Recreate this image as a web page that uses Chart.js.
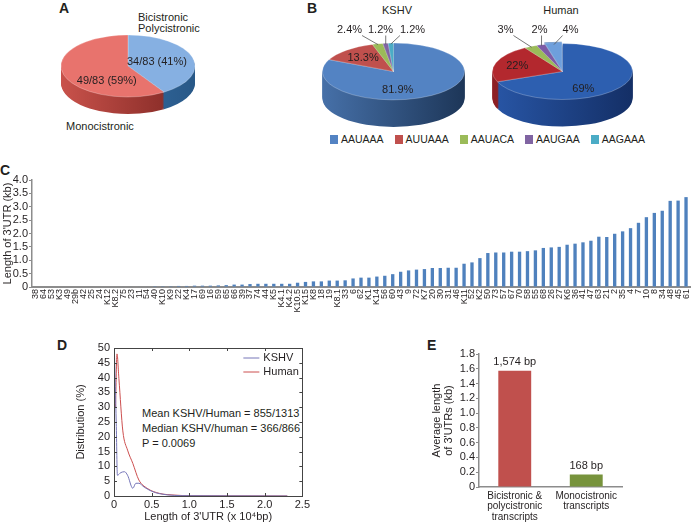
<!DOCTYPE html>
<html>
<head>
<meta charset="utf-8">
<script src="https://cdn.jsdelivr.net/npm/chart.js@4.4.0/dist/chart.umd.min.js"></script>
<style>
  html, body { margin: 0; padding: 0; background: #fff; }
  body { width: 700px; height: 524px; position: relative; overflow: hidden;
         font-family: "Liberation Sans", Arial, Helvetica, sans-serif; color: #231f20; }
  canvas, .t { position: absolute; }
  .t { font-size: 11px; line-height: 12px; white-space: nowrap; }
  .panel { font-size: 14px; font-weight: bold; line-height: 16px; }
  #legendB { position: absolute; left: 330px; top: 133px; display: flex; gap: 11px; font-size: 10.5px; line-height: 12px; }
  #legendB span.sw { display: inline-block; width: 8px; height: 9px; margin-right: 3px; vertical-align: -1px; }
</style>
</head>
<body>

<!-- panel letters and free text -->
<div class="t panel" style="left:59px; top:0px;">A</div>
<div class="t panel" style="left:307px; top:0px;">B</div>
<div class="t panel" style="left:0px; top:162px;">C</div>
<div class="t panel" style="left:57px; top:337px;">D</div>
<div class="t panel" style="left:427px; top:337px;">E</div>

<div class="t" id="labA0" style="left:138px; top:12px; line-height:10.5px;"></div>
<div class="t" id="labA1" style="left:66px; top:120px;"></div>

<div class="t" style="left:372px; top:4px; width:50px; text-align:center;">KSHV</div>
<div class="t" style="left:531px; top:4px; width:60px; text-align:center;">Human</div>
<div id="legendB"></div>

<div class="t" id="statsD" style="left:142px; top:406px; line-height:15px;"></div>

<canvas id="pieA" width="134" height="134" style="left:61px; top:-1px;"></canvas>
<canvas id="pieKshv" width="143" height="143" style="left:322px; top:0px;"></canvas>
<canvas id="pieHuman" width="141" height="143" style="left:492px; top:0px;"></canvas>
<canvas id="barC" width="700" height="150" style="left:0px; top:170px;"></canvas>
<canvas id="lineD" width="252" height="189" style="left:60px; top:335px;"></canvas>
<canvas id="barE" width="270" height="184" style="left:430px; top:340px;"></canvas>

<script>
// ---------- data ----------

// A: KSHV transcripts by cistronic type
const cistronicLabels = [["Bicistronic", "Polycistronic"], ["Monocistronic"]];
const cistronicCounts = [34, 49];
const cistronicTotal = 83;

// B: poly(A) signal usage, percent
const pasLabels = ["AAUAAA", "AUUAAA", "AAUACA", "AAUGAA", "AAGAAA"];
const pasKshv = [81.9, 13.3, 2.4, 1.2, 1.2];
const pasHuman = [69, 22, 3, 2, 4];

// C: 3'UTR length per transcript (kb)
const utrGenes = ["38","64","53","K3","49","29b","42","25","24","K12","K8.2","75","23","11","54","40",
  "K10","K9","22","K4","17","69","16","59","65","66","39","37","74","44","K5","K4.1","K4.2","K10.5",
  "K15","K8","18","19","K8.1","33","6","62","K1","K14","56","60","43","9","72","K7","20","30","31",
  "46","K11","52","K2","50","73","57","67","70","58","55","68","26","27","K6","36","41","47","63",
  "21","2","35","4","7","10","8","34","48","45","61"];
const utrLengths = [0,0,0,0,0,0,0,0,0,0,0,
  0.02,0.02,0.02,0.02,0.03,0.03,0.03,0.04,0.04,0.05,0.05,0.05,0.06,0.07,
  0.09,0.09,0.11,0.12,0.12,0.12,0.12,0.12,0.16,0.19,0.21,0.21,0.24,0.24,0.25,0.32,0.35,0.35,0.39,
  0.42,0.48,0.57,0.62,0.65,0.67,0.71,0.71,0.72,0.72,
  0.87,0.92,1.08,1.27,1.29,1.29,1.32,1.32,1.34,1.37,1.46,1.48,1.50,1.58,1.62,1.67,1.73,1.88,1.87,
  1.99,2.08,2.20,2.40,2.61,2.77,2.85,3.22,3.23,3.36];

// D: distribution of 3'UTR length (x 10^4 bp, %)
const kshvX = [0.005, 0.03, 0.045, 0.09, 0.14, 0.18, 0.25, 0.29, 0.33, 0.4, 0.5, 0.6, 0.8, 1.0, 1.5, 2.0, 2.3];
const kshvY = [49, 24.5, 7, 7.9, 8.2, 7, 2.6, 4.3, 4.3, 3, 1.6, 0.8, 0.2, 0.1, 0.05, 0.02, 0];
const humanX = [0.02, 0.04, 0.065, 0.117, 0.18, 0.25, 0.33, 0.44, 0.6, 0.81, 1.0, 1.5, 2.0, 2.3];
const humanY = [30, 48, 39.7, 22, 15.5, 11, 5.4, 2.6, 0.9, 0.3, 0.1, 0.05, 0.02, 0];
const statLines = ["Mean KSHV/Human = 855/1313", "Median KSHV/human = 366/866", "P = 0.0069"];

// E: average 3'UTR length (kb)
const avgLabels = [["Bicistronic &", "polycistronic", "transcripts"], ["Monocistronic", "transcripts"]];
const avgLengths = [1.574, 0.168];

// ---------- defaults ----------
const FONT = '"Liberation Sans", Arial, Helvetica, sans-serif';
Chart.defaults.font.family = FONT;
Chart.defaults.color = "#231f20";
Chart.defaults.animation = false;
Chart.defaults.responsive = false;
Chart.defaults.plugins.legend.display = false;
Chart.defaults.plugins.tooltip.enabled = false;

const kshvColors = ["#5383c3", "#c0504d", "#9bbb59", "#8064a2", "#4bacc6"];
const humanColors = ["#2d5fb0", "#b3282e", "#9bbb59", "#7d5ba6", "#6e9fdc"];

// ---------- plugins ----------

// squash the pie into an ellipse and give it a side wall
const pie3d = {
  id: "pie3d",
  beforeDatasetsDraw(chart, args, o) {
    const arcs = chart.getDatasetMeta(0).data;
    const cx = arcs[0].x, cy = arcs[0].y, r = arcs[0].outerRadius;
    const ctx = chart.ctx;
    ctx.save();
    ctx.translate(cx, cy);
    ctx.scale(1, o.squash);
    ctx.translate(-cx, -cy);
    const fills = o.side.map(([c0, c1]) => {
      const g = ctx.createLinearGradient(cx - r, 0, cx + r, 0);
      g.addColorStop(0, c0);
      g.addColorStop(1, c1);
      return g;
    });
    for (let d = o.depth; d > 0; d--) {
      arcs.forEach((a, i) => {
        const mid = (a.startAngle + a.endAngle) / 2;
        const off = a.options.offset || 0;
        const ax = a.x + Math.cos(mid) * off;
        const ay = a.y + Math.sin(mid) * off + d / o.squash;
        ctx.beginPath();
        ctx.moveTo(ax, ay);
        ctx.arc(ax, ay, a.outerRadius, a.startAngle, a.endAngle);
        ctx.closePath();
        ctx.fillStyle = fills[i];
        ctx.fill();
      });
    }
  },
  afterDatasetsDraw(chart) {
    chart.ctx.restore();
  }
};

// percentage labels, inside or above with a leader line
const pieLabels = {
  id: "pieLabels",
  afterDraw(chart, args, o) {
    const arcs = chart.getDatasetMeta(0).data;
    const values = chart.data.datasets[0].data;
    const sq = chart.options.plugins.pie3d.squash;
    const ctx = chart.ctx;
    ctx.save();
    ctx.font = o.size + "px " + FONT;
    ctx.fillStyle = "#231f20";
    ctx.textAlign = "center";
    ctx.textBaseline = "middle";
    arcs.forEach((a, i) => {
      const mid = (a.startAngle + a.endAngle) / 2;
      const txt = o.format(values[i]);
      if (o.outside && o.outside[i] !== null) {
        const lx = a.x + o.outside[i], ly = a.y + o.outsideY;
        ctx.fillText(txt, lx, ly);
        const w = ctx.measureText(txt).width;
        const rx = a.x + Math.cos(mid) * a.outerRadius * 0.97;
        const ry = a.y + Math.sin(mid) * a.outerRadius * 0.97 * sq;
        ctx.beginPath();
        ctx.strokeStyle = "#555";
        ctx.lineWidth = 0.8;
        ctx.moveTo(Math.min(Math.max(rx, lx - w / 2), lx + w / 2), ly + 6);
        ctx.lineTo(rx, ry);
        ctx.stroke();
      } else {
        const [f, dy] = o.inside[i];
        const x = a.x + Math.cos(mid) * a.outerRadius * f;
        const y = a.y + Math.sin(mid) * a.outerRadius * f * sq + dy;
        ctx.fillText(txt, x, y);
      }
    });
    ctx.restore();
  }
};

function makePie(id, values, colors, opts) {
  return new Chart(document.getElementById(id), {
    type: "pie",
    data: {
      labels: opts.labels,
      datasets: [{
        data: values,
        backgroundColor: colors,
        borderWidth: 0.6,
        borderColor: "rgba(255,255,255,0.6)",
        offset: opts.offset || 0,
        clip: false
      }]
    },
    options: {
      radius: opts.radius,
      layout: { padding: 0 },
      plugins: {
        pie3d: { squash: opts.squash, depth: opts.depth, side: opts.side },
        pieLabels: { size: opts.size, format: opts.format, inside: opts.inside,
                     outside: opts.outside, outsideY: opts.outsideY }
      }
    },
    plugins: [pie3d, pieLabels]
  });
}

// ---------- A ----------
document.getElementById("labA0").innerHTML = cistronicLabels[0].join("<br>");
document.getElementById("labA1").textContent = cistronicLabels[1].join(" ");

makePie("pieA", cistronicCounts, ["#86b0e2", "#e8736d"], {
  labels: cistronicLabels.map(l => l.join(" ")),
  radius: 67, squash: 0.463, depth: 17,
  side: [["#3c78b6", "#285887"], ["#c9524b", "#7c2521"]],
  size: 11,
  format: v => `${v}/${cistronicTotal} (${Math.round(v / cistronicTotal * 100)}%)`,
  inside: [[0.45, 0], [0.33, 12]]
});

// ---------- B ----------
makePie("pieKshv", pasKshv, kshvColors, {
  labels: pasLabels,
  radius: 71, squash: 0.4, depth: 27,
  side: [["#4670a8", "#1d3658"], ["#9a3c3a", "#6a2826"], ["#7d9646", "#5c6e33"],
         ["#654f82", "#4a3a60"], ["#3a8aa0", "#2a6676"]],
  size: 11,
  format: v => v + "%",
  inside: [[0.11, 16], [0.65, 0], null, null, null],
  outside: [null, null, -44, -13, 19], outsideY: -42
});

makePie("pieHuman", pasHuman, humanColors, {
  labels: pasLabels,
  radius: 70, squash: 0.4, depth: 27,
  side: [["#2856a6", "#142f66"], ["#8e1f24", "#651519"], ["#7d9646", "#5c6e33"],
         ["#624785", "#4a3466"], ["#4f7fbd", "#36609a"]],
  offset: [0, 0, 0, 0, 7],
  size: 11,
  format: v => v + "%",
  inside: [[0.36, 12], [0.68, 0], null, null, null],
  outside: [null, null, -57, -23, 8], outsideY: -42
});

const legendB = document.getElementById("legendB");
pasLabels.forEach((name, i) => {
  const item = document.createElement("div");
  item.innerHTML = `<span class="sw" style="background:${kshvColors[i]}"></span>${name}`;
  legendB.appendChild(item);
});

// ---------- C ----------
new Chart(document.getElementById("barC"), {
  type: "bar",
  data: {
    labels: utrGenes,
    datasets: [{ data: utrLengths, backgroundColor: "#4f81bd", barPercentage: 0.42, categoryPercentage: 1 }]
  },
  options: {
    layout: { padding: { top: 10, right: 10, left: 0, bottom: 0 } },
    scales: {
      x: {
        grid: { display: false, drawTicks: false },
        border: { color: "#8c8c8c", width: 2 },
        ticks: { autoSkip: false, minRotation: 90, maxRotation: 90, padding: 2, font: { size: 9 } },
        afterFit: s => { s.height = 33; }
      },
      y: {
        min: 0, max: 4,
        ticks: { stepSize: 0.5, autoSkip: false, padding: 1, font: { size: 11 },
                 callback: v => v === 0 ? "0" : v.toFixed(1) },
        grid: { drawOnChartArea: false, tickLength: 3, color: "#8c8c8c" },
        border: { color: "#8c8c8c", width: 1.5 },
        title: { display: true, text: "Length of 3'UTR (kb)", font: { size: 11 }, padding: { top: 1, bottom: 0 } },
        afterFit: s => { s.width = 32; }
      }
    }
  }
});

// ---------- D ----------
document.getElementById("statsD").innerHTML = statLines.join("<br>");

const boxTicks = {
  id: "boxTicks",
  afterDraw(chart) {
    const { ctx, chartArea: a, scales: { x, y } } = chart;
    ctx.save();
    ctx.strokeStyle = "#444";
    ctx.lineWidth = 1;
    ctx.strokeRect(Math.round(a.left) + 0.5, Math.round(a.top) + 0.5,
                   Math.round(a.right - a.left), Math.round(a.bottom - a.top));
    ctx.beginPath();
    x.ticks.forEach(t => {
      const px = Math.round(x.getPixelForValue(t.value)) + 0.5;
      ctx.moveTo(px, a.bottom); ctx.lineTo(px, a.bottom - 3);
      ctx.moveTo(px, a.top); ctx.lineTo(px, a.top + 3);
    });
    y.ticks.forEach(t => {
      const py = Math.round(y.getPixelForValue(t.value)) + 0.5;
      ctx.moveTo(a.left, py); ctx.lineTo(a.left + 3, py);
      ctx.moveTo(a.right, py); ctx.lineTo(a.right - 3, py);
    });
    ctx.stroke();
    // legend, top right inside the box
    ctx.font = "11px " + FONT;
    ctx.textBaseline = "middle";
    chart.data.datasets.forEach((ds, i) => {
      const yy = a.top + 10 + i * 14;
      ctx.beginPath();
      ctx.strokeStyle = ds.borderColor;
      ctx.moveTo(a.right - 59, yy);
      ctx.lineTo(a.right - 43, yy);
      ctx.stroke();
      ctx.fillStyle = "#231f20";
      ctx.fillText(ds.label, a.right - 39, yy);
    });
    ctx.restore();
  }
};

new Chart(document.getElementById("lineD"), {
  type: "line",
  data: {
    datasets: [
      { label: "KSHV", data: kshvX.map((x, i) => ({ x, y: kshvY[i] })),
        borderColor: "#7676b8", borderWidth: 1, pointRadius: 0, cubicInterpolationMode: "monotone" },
      { label: "Human", data: humanX.map((x, i) => ({ x, y: humanY[i] })),
        borderColor: "#cc4f4f", borderWidth: 1, pointRadius: 0, cubicInterpolationMode: "monotone" }
    ]
  },
  options: {
    layout: { padding: { top: 13, right: 6, left: 0, bottom: 0 } },
    scales: {
      x: {
        type: "linear", min: 0, max: 2.5,
        ticks: { stepSize: 0.5, autoSkip: false, padding: 2, font: { size: 11 },
                 callback: v => v === 0 ? "0" : v.toFixed(1) },
        grid: { display: false, drawTicks: false },
        border: { display: false },
        title: { display: true, text: "Length of 3'UTR (x 10\u2074bp)", font: { size: 11 }, padding: { top: 0, bottom: 0 } },
        afterFit: s => { s.height = 28; }
      },
      y: {
        min: 0, max: 50,
        ticks: { stepSize: 5, autoSkip: false, padding: 4, font: { size: 11 } },
        grid: { display: false, drawTicks: false },
        border: { display: false },
        title: { display: true, text: "Distribution (%)", font: { size: 11 }, padding: { top: 14, bottom: 0 } },
        afterFit: s => { s.width = 54; }
      }
    }
  },
  plugins: [boxTicks]
});

// ---------- E ----------
const barValues = {
  id: "barValues",
  afterDatasetsDraw(chart) {
    const ctx = chart.ctx;
    const bars = chart.getDatasetMeta(0).data;
    const vals = chart.data.datasets[0].data;
    ctx.save();
    ctx.font = "11px " + FONT;
    ctx.fillStyle = "#231f20";
    ctx.textAlign = "center";
    ctx.textBaseline = "bottom";
    bars.forEach((b, i) => {
      ctx.fillText(Math.round(vals[i] * 1000).toLocaleString("en-US") + " bp", b.x, b.y - 3);
    });
    ctx.restore();
  }
};

new Chart(document.getElementById("barE"), {
  type: "bar",
  data: {
    labels: avgLabels,
    datasets: [{ data: avgLengths, backgroundColor: ["#c0504d", "#77933c"], barPercentage: 0.46, categoryPercentage: 1 }]
  },
  options: {
    layout: { padding: { top: 14, right: 78, left: 0, bottom: 0 } },
    scales: {
      x: {
        grid: { display: false, drawTicks: false },
        border: { color: "#8c8c8c", width: 1.5 },
        ticks: { padding: 4, maxRotation: 0, autoSkip: false, font: { size: 10, lineHeight: 1.03 } },
        afterFit: s => { s.height = 37; }
      },
      y: {
        min: 0, max: 1.8,
        ticks: { stepSize: 0.2, autoSkip: false, padding: 1, font: { size: 11 },
                 callback: v => v === 0 ? "0" : v.toFixed(1) },
        grid: { drawOnChartArea: false, tickLength: 3, color: "#8c8c8c" },
        border: { color: "#8c8c8c", width: 1.5 },
        title: { display: true, text: ["Average length", "of 3'UTRs (kb)"], font: { size: 11, lineHeight: 1.1 }, padding: { top: 1, bottom: 0 } },
        afterFit: s => { s.width = 49; }
      }
    }
  },
  plugins: [barValues]
});
</script>
</body>
</html>
